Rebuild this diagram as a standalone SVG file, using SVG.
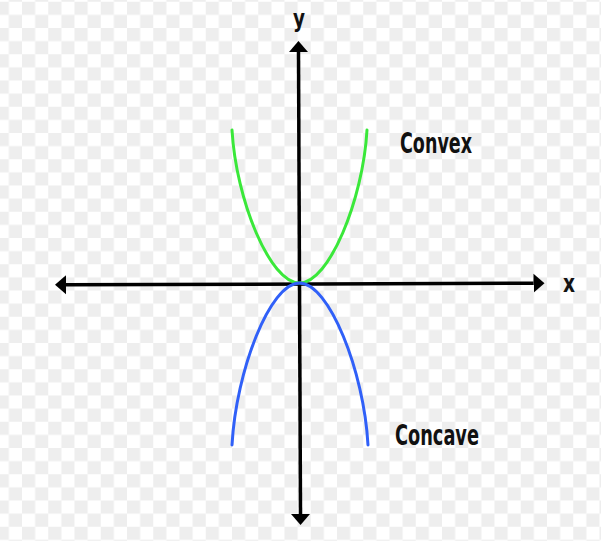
<svg xmlns="http://www.w3.org/2000/svg" width="601" height="541" viewBox="0 0 601 541">
  <defs>
    <pattern id="checker" patternUnits="userSpaceOnUse" x="22" y="1.75" width="26.25" height="26.25">
      <rect x="0" y="0" width="26.25" height="26.25" fill="#ffffff"/>
      <rect x="0" y="0" width="13.125" height="13.125" fill="#eeeeee"/>
      <rect x="13.125" y="13.125" width="13.125" height="13.125" fill="#eeeeee"/>
    </pattern>
    <marker id="arrow" markerUnits="userSpaceOnUse" viewBox="0 -10 12 20" refX="0" refY="0" markerWidth="12" markerHeight="20" orient="auto-start-reverse">
      <path d="M0,-9.5 L11,0 L0,9.5 Z" fill="#000000"/>
    </marker>
  </defs>
  <style>
    .axis { stroke: #000000; stroke-width: 3.5; fill: none; marker-start: url(#arrow); marker-end: url(#arrow); }
    .curve { fill: none; stroke-width: 3; stroke-linecap: round; }
    .convex { stroke: #3ae83a; }
    .concave { stroke: #3060f8; }
    .lbl { font-family: "Liberation Sans Narrow", "DejaVu Sans Condensed", "Liberation Sans", sans-serif; font-weight: bold; fill: #111111; }
  </style>
  <rect x="0" y="0" width="601" height="541" fill="url(#checker)"/>

  <g id="connectors">
    <line id="x-axis" class="axis" x1="66" y1="284.8" x2="533.5" y2="283.2"/>
    <line id="y-axis" class="axis" x1="298.5" y1="52" x2="300.5" y2="514"/>
  </g>

  <g id="convex-curve">
    <path class="curve convex" d="M232,130 C236,200 270,283 299.5,283 C329,283 363,200 367,130"/>
  </g>
  <g id="concave-curve">
    <path class="curve concave" d="M232,445 C236,371 270,283 299.5,283 C329,283 364,371 368,445"/>
  </g>

  <g id="label-y">
    <text class="lbl" x="293" y="26.5" font-size="25" textLength="12" lengthAdjust="spacingAndGlyphs">y</text>
  </g>
  <g id="label-x">
    <text class="lbl" x="563" y="292" font-size="25" textLength="12" lengthAdjust="spacingAndGlyphs">x</text>
  </g>
  <g id="label-convex">
    <text class="lbl" x="400" y="153" font-size="28" textLength="72" lengthAdjust="spacingAndGlyphs">Convex</text>
  </g>
  <g id="label-concave">
    <text class="lbl" x="395" y="445" font-size="28" textLength="84" lengthAdjust="spacingAndGlyphs">Concave</text>
  </g>
</svg>
